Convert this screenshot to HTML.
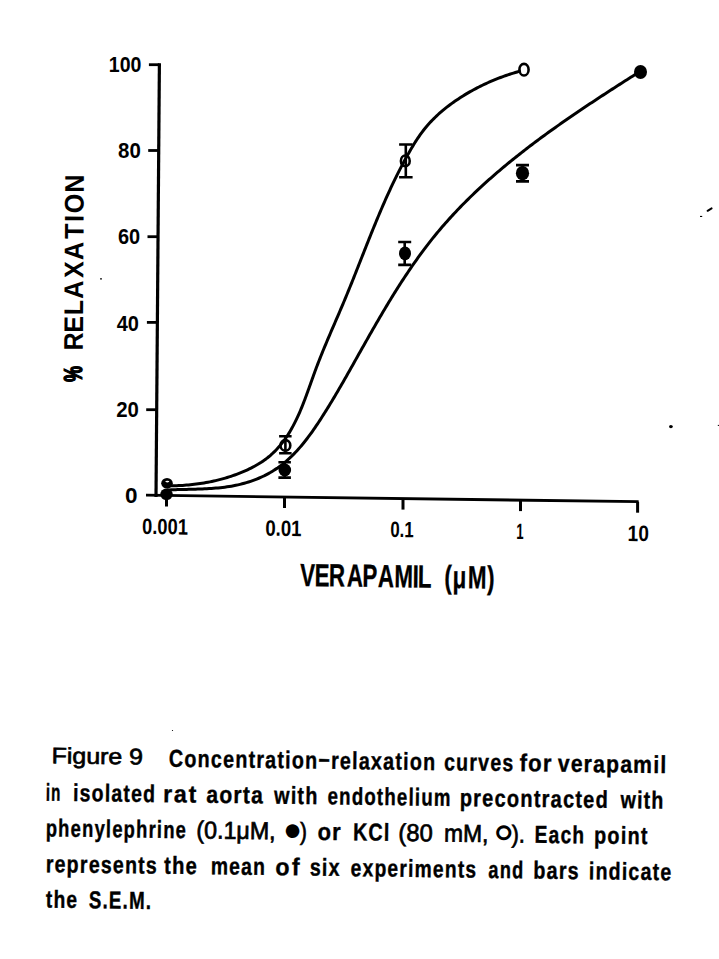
<!DOCTYPE html>
<html><head><meta charset="utf-8"><title>Figure 9</title>
<style>
html,body{margin:0;padding:0;background:#fff;}
body{width:719px;height:959px;overflow:hidden;}
svg{display:block;}
</style></head>
<body>
<svg width="719" height="959" viewBox="0 0 719 959">
<rect width="719" height="959" fill="#fff"/>
<g stroke="#000" fill="none" stroke-linecap="butt">
<path d="M159.4,63.3 L156.0,497" stroke-width="3.2"/>
<path d="M146,495.2 L638.6,501.7" stroke-width="2.8"/>
<path d="M148.9,64.7 L159.4,64.7" stroke-width="2.8"/>
<path d="M148.2,150.5 L158.7,150.5" stroke-width="2.8"/>
<path d="M147.5,236.7 L158.0,236.7" stroke-width="2.8"/>
<path d="M146.9,322.4 L157.4,322.4" stroke-width="2.8"/>
<path d="M146.2,409.7 L156.7,409.7" stroke-width="2.8"/>
<path d="M166.5,495.5 L166.5,506.5" stroke-width="3"/>
<path d="M284.5,497.0 L284.5,508.0" stroke-width="3"/>
<path d="M403.0,498.6 L403.0,509.6" stroke-width="3"/>
<path d="M520.5,500.1 L520.5,511.1" stroke-width="3"/>
<path d="M637.6,501.7 L637.6,512.7" stroke-width="3"/>
</g>
<g stroke="#000" fill="none" stroke-width="3.0" stroke-linejoin="round">
<path d="M167.21,485.77 L169.11,485.78 L171.02,485.78 L172.93,485.75 L174.85,485.71 L176.78,485.66 L178.71,485.58 L180.64,485.49 L182.58,485.38 L184.52,485.25 L186.46,485.10 L188.41,484.93 L190.36,484.75 L192.31,484.55 L194.26,484.33 L196.22,484.09 L198.17,483.83 L200.12,483.55 L202.08,483.25 L204.03,482.93 L205.98,482.59 L207.92,482.23 L209.87,481.85 L211.81,481.45 L213.75,481.04 L215.68,480.59 L217.61,480.13 L219.54,479.65 L221.45,479.15 L223.37,478.62 L225.28,478.08 L227.18,477.51 L229.07,476.92 L230.95,476.31 L232.83,475.67 L234.70,475.02 L236.56,474.34 L238.41,473.64 L240.25,472.91 L242.08,472.16 L243.90,471.39 L245.70,470.60 L247.50,469.78 L249.28,468.94 L251.04,468.07 L252.79,467.17 L254.53,466.25 L256.24,465.30 L257.93,464.32 L259.60,463.30 L261.24,462.26 L262.86,461.18 L264.46,460.07 L266.02,458.93 L267.56,457.75 L269.06,456.53 L270.53,455.27 L271.97,453.99 L273.38,452.66 L274.76,451.31 L276.11,449.93 L277.43,448.52 L278.72,447.08 L279.98,445.61 L281.21,444.12 L282.40,442.61 L283.57,441.07 L284.71,439.51 L285.82,437.93 L286.90,436.34 L287.96,434.72 L288.99,433.09 L289.99,431.43 L290.98,429.76 L291.93,428.08 L292.87,426.38 L293.78,424.66 L294.68,422.93 L295.55,421.19 L296.41,419.43 L297.24,417.66 L298.06,415.88 L298.87,414.08 L299.66,412.28 L300.43,410.47 L301.19,408.65 L301.94,406.82 L302.68,404.98 L303.41,403.13 L304.13,401.28 L304.84,399.42 L305.54,397.56 L306.23,395.69 L306.92,393.82 L307.60,391.94 L308.28,390.07 L308.95,388.19 L309.63,386.31 L310.30,384.43 L310.97,382.55 L311.64,380.66 L312.31,378.79 L312.98,376.91 L313.65,375.03 L314.33,373.16 L315.02,371.30 L315.71,369.43 L316.40,367.58 L317.11,365.72 L317.81,363.88 L318.53,362.03 L319.24,360.19 L319.97,358.36 L320.70,356.53 L321.43,354.70 L322.17,352.88 L322.91,351.06 L323.65,349.24 L324.40,347.43 L325.15,345.62 L325.91,343.81 L326.67,342.01 L327.43,340.20 L328.19,338.40 L328.95,336.60 L329.72,334.81 L330.49,333.01 L331.26,331.21 L332.03,329.42 L332.80,327.63 L333.58,325.84 L334.35,324.05 L335.13,322.25 L335.90,320.46 L336.67,318.67 L337.45,316.88 L338.22,315.09 L338.99,313.30 L339.76,311.50 L340.53,309.71 L341.29,307.91 L342.06,306.12 L342.82,304.32 L343.58,302.52 L344.34,300.72 L345.09,298.91 L345.84,297.11 L346.59,295.30 L347.34,293.49 L348.08,291.68 L348.82,289.86 L349.56,288.04 L350.30,286.23 L351.04,284.41 L351.77,282.59 L352.50,280.77 L353.23,278.94 L353.96,277.12 L354.69,275.29 L355.41,273.46 L356.14,271.64 L356.86,269.81 L357.59,267.98 L358.31,266.15 L359.03,264.32 L359.75,262.49 L360.48,260.65 L361.20,258.82 L361.92,256.99 L362.64,255.16 L363.37,253.33 L364.09,251.49 L364.81,249.66 L365.54,247.83 L366.26,245.99 L366.99,244.16 L367.72,242.33 L368.45,240.50 L369.18,238.67 L369.91,236.84 L370.65,235.01 L371.38,233.18 L372.12,231.35 L372.86,229.53 L373.60,227.70 L374.35,225.88 L375.10,224.06 L375.85,222.23 L376.60,220.41 L377.36,218.60 L378.12,216.78 L378.88,214.96 L379.64,213.15 L380.41,211.34 L381.19,209.53 L381.96,207.72 L382.74,205.92 L383.53,204.11 L384.32,202.31 L385.11,200.51 L385.91,198.72 L386.71,196.92 L387.52,195.13 L388.33,193.34 L389.15,191.56 L389.97,189.77 L390.80,187.99 L391.63,186.22 L392.47,184.44 L393.32,182.67 L394.17,180.91 L395.02,179.14 L395.89,177.38 L396.75,175.63 L397.63,173.87 L398.51,172.12 L399.40,170.38 L400.30,168.64 L401.20,166.90 L402.11,165.17 L403.02,163.44 L403.95,161.71 L404.88,159.99 L405.82,158.28 L406.76,156.57 L407.72,154.86 L408.68,153.16 L409.65,151.46 L410.63,149.77 L411.62,148.08 L412.62,146.40 L413.63,144.73 L414.66,143.06 L415.70,141.41 L416.75,139.77 L417.82,138.14 L418.92,136.53 L420.03,134.93 L421.16,133.34 L422.32,131.78 L423.50,130.23 L424.70,128.70 L425.94,127.19 L427.19,125.71 L428.48,124.24 L429.79,122.79 L431.12,121.36 L432.48,119.96 L433.86,118.57 L435.26,117.20 L436.68,115.85 L438.12,114.52 L439.58,113.21 L441.06,111.92 L442.56,110.65 L444.08,109.39 L445.61,108.15 L447.16,106.93 L448.73,105.73 L450.31,104.55 L451.90,103.38 L453.51,102.23 L455.12,101.10 L456.75,99.98 L458.40,98.88 L460.05,97.80 L461.71,96.73 L463.38,95.69 L465.07,94.65 L466.76,93.64 L468.47,92.64 L470.18,91.66 L471.90,90.69 L473.63,89.74 L475.37,88.81 L477.12,87.89 L478.88,87.00 L480.64,86.11 L482.41,85.25 L484.19,84.40 L485.98,83.57 L487.77,82.75 L489.57,81.95 L491.38,81.17 L493.19,80.40 L495.00,79.66 L496.83,78.92 L498.65,78.21 L500.49,77.51 L502.32,76.83 L504.16,76.16 L506.01,75.51 L507.86,74.88 L509.71,74.26 L511.56,73.66 L513.42,73.08 L515.28,72.51 L517.15,71.96 L519.01,71.43 L520.88,70.91"/>
<path d="M167.04,490.00 L169.16,489.90 L171.30,489.81 L173.45,489.73 L175.62,489.66 L177.80,489.60 L179.99,489.54 L182.19,489.48 L184.40,489.43 L186.62,489.38 L188.85,489.33 L191.08,489.28 L193.32,489.22 L195.57,489.16 L197.82,489.09 L200.07,489.01 L202.33,488.92 L204.59,488.82 L206.84,488.71 L209.10,488.59 L211.35,488.44 L213.61,488.28 L215.85,488.10 L218.10,487.90 L220.34,487.67 L222.57,487.42 L224.79,487.15 L227.01,486.84 L229.22,486.51 L231.41,486.15 L233.60,485.75 L235.77,485.32 L237.93,484.86 L240.08,484.36 L242.21,483.83 L244.33,483.26 L246.43,482.65 L248.52,482.01 L250.59,481.33 L252.64,480.61 L254.68,479.86 L256.70,479.07 L258.70,478.25 L260.68,477.39 L262.64,476.49 L264.58,475.55 L266.49,474.57 L268.39,473.56 L270.27,472.51 L272.12,471.42 L273.95,470.30 L275.75,469.13 L277.54,467.93 L279.29,466.69 L281.02,465.41 L282.73,464.09 L284.41,462.73 L286.07,461.34 L287.70,459.91 L289.30,458.45 L290.89,456.96 L292.45,455.43 L293.99,453.88 L295.51,452.29 L297.01,450.68 L298.49,449.04 L299.95,447.38 L301.39,445.69 L302.81,443.99 L304.21,442.26 L305.60,440.51 L306.97,438.74 L308.32,436.96 L309.66,435.16 L310.98,433.34 L312.29,431.52 L313.59,429.67 L314.87,427.82 L316.13,425.96 L317.39,424.10 L318.63,422.22 L319.87,420.34 L321.09,418.45 L322.30,416.56 L323.50,414.67 L324.70,412.78 L325.88,410.89 L327.06,409.00 L328.23,407.10 L329.39,405.21 L330.54,403.31 L331.69,401.41 L332.83,399.51 L333.97,397.62 L335.10,395.71 L336.22,393.81 L337.34,391.91 L338.45,390.01 L339.56,388.10 L340.66,386.20 L341.76,384.29 L342.86,382.38 L343.96,380.47 L345.05,378.56 L346.14,376.65 L347.22,374.73 L348.31,372.82 L349.39,370.90 L350.47,368.99 L351.56,367.07 L352.64,365.15 L353.72,363.23 L354.80,361.31 L355.88,359.38 L356.96,357.46 L358.04,355.53 L359.13,353.61 L360.21,351.68 L361.30,349.76 L362.38,347.83 L363.47,345.90 L364.56,343.98 L365.65,342.05 L366.74,340.12 L367.83,338.20 L368.92,336.27 L370.02,334.34 L371.12,332.42 L372.22,330.50 L373.32,328.57 L374.43,326.65 L375.53,324.73 L376.64,322.81 L377.76,320.89 L378.87,318.98 L379.99,317.06 L381.11,315.15 L382.24,313.24 L383.37,311.33 L384.50,309.42 L385.64,307.52 L386.78,305.62 L387.92,303.72 L389.07,301.82 L390.22,299.93 L391.38,298.04 L392.54,296.15 L393.70,294.27 L394.87,292.39 L396.05,290.51 L397.23,288.64 L398.41,286.77 L399.61,284.90 L400.80,283.04 L402.00,281.19 L403.21,279.33 L404.42,277.48 L405.64,275.64 L406.87,273.80 L408.10,271.96 L409.33,270.13 L410.58,268.31 L411.83,266.49 L413.08,264.68 L414.35,262.87 L415.62,261.06 L416.89,259.27 L418.18,257.47 L419.47,255.69 L420.77,253.91 L422.08,252.13 L423.39,250.37 L424.71,248.61 L426.04,246.85 L427.38,245.10 L428.73,243.36 L430.08,241.63 L431.45,239.90 L432.82,238.18 L434.20,236.47 L435.59,234.76 L436.99,233.07 L438.39,231.38 L439.81,229.69 L441.23,228.02 L442.67,226.35 L444.11,224.69 L445.56,223.04 L447.02,221.39 L448.48,219.75 L449.96,218.12 L451.44,216.50 L452.93,214.88 L454.43,213.27 L455.94,211.67 L457.45,210.07 L458.97,208.48 L460.50,206.90 L462.04,205.32 L463.58,203.75 L465.13,202.19 L466.69,200.63 L468.26,199.08 L469.83,197.54 L471.41,196.00 L473.00,194.47 L474.59,192.94 L476.19,191.42 L477.79,189.91 L479.41,188.40 L481.03,186.90 L482.65,185.41 L484.28,183.92 L485.92,182.44 L487.56,180.96 L489.21,179.49 L490.87,178.03 L492.53,176.57 L494.20,175.11 L495.87,173.67 L497.55,172.22 L499.23,170.79 L500.92,169.36 L502.61,167.93 L504.31,166.51 L506.02,165.09 L507.72,163.68 L509.44,162.28 L511.16,160.88 L512.88,159.49 L514.61,158.10 L516.34,156.71 L518.08,155.33 L519.82,153.96 L521.56,152.59 L523.31,151.22 L525.07,149.86 L526.82,148.51 L528.59,147.16 L530.35,145.81 L532.12,144.47 L533.89,143.13 L535.67,141.80 L537.45,140.47 L539.23,139.14 L541.02,137.82 L542.81,136.51 L544.60,135.20 L546.40,133.89 L548.20,132.59 L550.00,131.29 L551.80,129.99 L553.61,128.70 L555.42,127.41 L557.23,126.13 L559.04,124.85 L560.86,123.57 L562.68,122.30 L564.50,121.03 L566.32,119.76 L568.15,118.50 L569.97,117.24 L571.80,115.99 L573.63,114.74 L575.47,113.49 L577.30,112.24 L579.13,111.00 L580.97,109.76 L582.81,108.53 L584.65,107.29 L586.49,106.06 L588.33,104.84 L590.17,103.61 L592.01,102.39 L593.85,101.17 L595.70,99.96 L597.54,98.75 L599.38,97.53 L601.23,96.33 L603.08,95.12 L604.92,93.92 L606.77,92.72 L608.61,91.52 L610.46,90.33 L612.30,89.13 L614.15,87.94 L615.99,86.75 L617.84,85.57 L619.68,84.38 L621.52,83.20 L623.37,82.02 L625.21,80.84 L627.05,79.66 L628.89,78.49 L630.73,77.31 L632.56,76.14 L634.40,74.97 L636.24,73.80 L638.07,72.64 L639.90,71.47"/>
</g>
<path d="M285.4,436.2 L285.4,453.3 M279.1,436.2 L291.6,436.2 M279.1,453.3 L291.6,453.3" stroke="#000" stroke-width="2.6" fill="none"/>
<path d="M284.7,462.3 L284.7,477.6 M278.4,462.3 L290.9,462.3 M278.4,477.6 L290.9,477.6" stroke="#000" stroke-width="2.6" fill="none"/>
<path d="M405.8,144.5 L405.8,177.3 M399.1,144.5 L412.6,144.5 M399.1,177.3 L412.6,177.3" stroke="#000" stroke-width="2.6" fill="none"/>
<path d="M404.7,242.0 L404.7,264.9 M398.2,242.0 L411.2,242.0 M398.2,264.9 L411.2,264.9" stroke="#000" stroke-width="2.6" fill="none"/>
<path d="M522.5,165.1 L522.5,181.4 M516.0,165.1 L529.0,165.1 M516.0,181.4 L529.0,181.4" stroke="#000" stroke-width="2.6" fill="none"/>
<ellipse cx="166.5" cy="494.3" rx="6.3" ry="5.8" fill="#000"/>
<ellipse cx="284.8" cy="470.0" rx="6.3" ry="6.5" fill="#000"/>
<ellipse cx="405.0" cy="253.4" rx="6.0" ry="7.0" fill="#000"/>
<ellipse cx="522.5" cy="173.2" rx="6.6" ry="7.2" fill="#000"/>
<ellipse cx="640.5" cy="72.0" rx="6.5" ry="7.0" fill="#000"/>
<ellipse cx="167.0" cy="483.2" rx="5.8" ry="5.2" fill="#000"/>
<ellipse cx="167.3" cy="481.6" rx="2.0" ry="0.8" fill="#fff"/>
<ellipse cx="285.4" cy="445.4" rx="4.9" ry="5.3" fill="none" stroke="#000" stroke-width="2.6"/>
<ellipse cx="405.3" cy="160.9" rx="4.4" ry="5.4" fill="none" stroke="#000" stroke-width="2.6"/>
<ellipse cx="524.0" cy="69.7" rx="4.6" ry="5.8" fill="none" stroke="#000" stroke-width="2.6"/>
<g fill="#000">
<text x="108.77" y="71.90" font-family="Liberation Sans, DejaVu Sans, sans-serif" font-weight="bold" font-size="22.4" textLength="32.63" lengthAdjust="spacingAndGlyphs" >100</text>
<text x="118.10" y="157.70" font-family="Liberation Sans, DejaVu Sans, sans-serif" font-weight="bold" font-size="22.4" textLength="22.74" lengthAdjust="spacingAndGlyphs" >80</text>
<text x="118.02" y="244.40" font-family="Liberation Sans, DejaVu Sans, sans-serif" font-weight="bold" font-size="22.4" textLength="22.20" lengthAdjust="spacingAndGlyphs" >60</text>
<text x="116.70" y="330.90" font-family="Liberation Sans, DejaVu Sans, sans-serif" font-weight="bold" font-size="22.4" textLength="22.22" lengthAdjust="spacingAndGlyphs" >40</text>
<text x="116.29" y="417.00" font-family="Liberation Sans, DejaVu Sans, sans-serif" font-weight="bold" font-size="22.4" textLength="22.64" lengthAdjust="spacingAndGlyphs" >20</text>
<text x="125.11" y="502.80" font-family="Liberation Sans, DejaVu Sans, sans-serif" font-weight="bold" font-size="22.4" textLength="12.51" lengthAdjust="spacingAndGlyphs" >0</text>
<text x="142.08" y="534.00" font-family="Liberation Sans, DejaVu Sans, sans-serif" font-weight="bold" font-size="22.4" textLength="45.73" lengthAdjust="spacingAndGlyphs" transform="rotate(0.740 142.80 534.00)">0.001</text>
<text x="265.16" y="535.70" font-family="Liberation Sans, DejaVu Sans, sans-serif" font-weight="bold" font-size="22.4" textLength="36.36" lengthAdjust="spacingAndGlyphs" transform="rotate(0.740 265.90 535.70)">0.01</text>
<text x="390.13" y="537.00" font-family="Liberation Sans, DejaVu Sans, sans-serif" font-weight="bold" font-size="22.4" textLength="23.44" lengthAdjust="spacingAndGlyphs" transform="rotate(0.740 390.80 537.00)">0.1</text>
<text x="516.17" y="538.90" font-family="Liberation Sans, DejaVu Sans, sans-serif" font-weight="bold" font-size="22.4" textLength="7.29" lengthAdjust="spacingAndGlyphs" transform="rotate(0.740 517.00 538.90)">1</text>
<text x="627.60" y="541.00" font-family="Liberation Sans, DejaVu Sans, sans-serif" font-weight="bold" font-size="22.4" textLength="21.18" lengthAdjust="spacingAndGlyphs" transform="rotate(0.740 628.80 541.00)">10</text>
<text transform="rotate(0.740 300.00 586.00) translate(300.00,586.00) scale(0.7000,1)" x="-0.03 20.74 41.13 66.90 89.02 110.97 134.60 160.91 168.15 187.70 205.96 217.79 239.74 267.02" y="0" font-family="Liberation Sans, DejaVu Sans, sans-serif" font-weight="bold" font-size="32.0" stroke="#000" stroke-width="0.30">VERAPAMIL (μM)</text>
<text transform="rotate(0.350 83.20 280.00) translate(83.20,390.00) rotate(-90) scale(0.9300,1)" x="42.39 61.51 80.33 98.15 120.35 139.81 162.45 180.71 190.10 212.03" y="0" font-family="Liberation Sans, DejaVu Sans, sans-serif" font-weight="bold" font-size="27.0">RELAXATION</text>
<text transform="rotate(0.350 83.20 280.00) translate(82.40,390.00) rotate(-90) scale(0.7000,1)" x="11.37" y="0" font-family="Liberation Sans, DejaVu Sans, sans-serif" font-weight="bold" font-size="25.6" stroke="#000" stroke-width="1.40">%</text>
</g>
<g fill="#000">
<g transform="rotate(0.740 52.00 763.30)">
<text transform="translate(52.30,763.30) scale(1.115,1)" x="-0.72" y="0" font-family="Liberation Sans, DejaVu Sans, sans-serif" font-weight="normal" font-size="22.4" textLength="82.1" lengthAdjust="spacing" stroke="#000" stroke-width="0.66">Figure 9</text>
</g>
<g transform="rotate(0.740 170.00 766.70)">
<text transform="translate(169.60,766.70) scale(0.806,1)" x="-0.99" y="0" font-family="Liberation Sans, DejaVu Sans, sans-serif" font-weight="bold" font-size="24.5" textLength="330.3" lengthAdjust="spacing" stroke="#000" stroke-width="0.39">Concentration−relaxation</text>
<text transform="translate(444.80,766.70) scale(0.800,1)" x="-1.00" y="0" font-family="Liberation Sans, DejaVu Sans, sans-serif" font-weight="bold" font-size="24.5" textLength="86.5" lengthAdjust="spacing" stroke="#000" stroke-width="0.39">curves</text>
<text transform="translate(520.30,766.70) scale(0.906,1)" x="-0.88" y="0" font-family="Liberation Sans, DejaVu Sans, sans-serif" font-weight="bold" font-size="24.5" textLength="35.3" lengthAdjust="spacing" stroke="#000" stroke-width="0.37">for</text>
<text transform="translate(558.50,766.70) scale(0.864,1)" x="-0.93" y="0" font-family="Liberation Sans, DejaVu Sans, sans-serif" font-weight="bold" font-size="24.5" textLength="125.5" lengthAdjust="spacing" stroke="#000" stroke-width="0.38">verapamil</text>
</g>
<g transform="rotate(0.740 46.50 800.70)">
<text transform="translate(46.50,800.70) scale(0.620,1)" x="-1.29" y="0" font-family="Liberation Sans, DejaVu Sans, sans-serif" font-weight="bold" font-size="24.5" textLength="23.4" lengthAdjust="spacing" stroke="#000" stroke-width="0.44">in</text>
<text transform="translate(73.70,800.70) scale(0.796,1)" x="-1.01" y="0" font-family="Liberation Sans, DejaVu Sans, sans-serif" font-weight="bold" font-size="24.5" textLength="103.1" lengthAdjust="spacing" stroke="#000" stroke-width="0.39">isolated</text>
<text transform="translate(163.80,800.70) scale(0.950,1)" x="-0.84" y="0" font-family="Liberation Sans, DejaVu Sans, sans-serif" font-weight="bold" font-size="24.5" textLength="34.9" lengthAdjust="spacing" stroke="#000" stroke-width="0.36">rat</text>
<text transform="translate(207.00,800.70) scale(0.863,1)" x="-0.93" y="0" font-family="Liberation Sans, DejaVu Sans, sans-serif" font-weight="bold" font-size="24.5" textLength="65.5" lengthAdjust="spacing" stroke="#000" stroke-width="0.38">aorta</text>
<text transform="translate(274.90,800.70) scale(0.806,1)" x="-0.99" y="0" font-family="Liberation Sans, DejaVu Sans, sans-serif" font-weight="bold" font-size="24.5" textLength="53.5" lengthAdjust="spacing" stroke="#000" stroke-width="0.39">with</text>
<text transform="translate(328.30,800.70) scale(0.762,1)" x="-1.05" y="0" font-family="Liberation Sans, DejaVu Sans, sans-serif" font-weight="bold" font-size="24.5" textLength="161.4" lengthAdjust="spacing" stroke="#000" stroke-width="0.40">endothelium</text>
<text transform="translate(460.50,800.70) scale(0.818,1)" x="-0.98" y="0" font-family="Liberation Sans, DejaVu Sans, sans-serif" font-weight="bold" font-size="24.5" textLength="181.0" lengthAdjust="spacing" stroke="#000" stroke-width="0.39">precontracted</text>
<text transform="translate(621.30,800.70) scale(0.800,1)" x="-1.00" y="0" font-family="Liberation Sans, DejaVu Sans, sans-serif" font-weight="bold" font-size="24.5" textLength="53.5" lengthAdjust="spacing" stroke="#000" stroke-width="0.39">with</text>
</g>
<g transform="rotate(0.740 46.50 836.40)">
<text transform="translate(46.50,836.40) scale(0.751,1)" x="-1.07" y="0" font-family="Liberation Sans, DejaVu Sans, sans-serif" font-weight="bold" font-size="24.5" textLength="186.6" lengthAdjust="spacing" stroke="#000" stroke-width="0.40">phenylephrine</text>
</g>
<g transform="rotate(0.740 46.50 836.40)">
<text transform="translate(197.00,836.40) scale(0.950,1)" x="-0.84" y="0" font-family="Liberation Sans, DejaVu Sans, sans-serif" font-weight="normal" font-size="24.5" textLength="83.6" lengthAdjust="spacing" stroke="#000" stroke-width="0.72">(0.1μM,</text>
<text transform="translate(300.90,836.40) scale(0.832,1)" x="-0.96" y="0" font-family="Liberation Sans, DejaVu Sans, sans-serif" font-weight="normal" font-size="24.5" textLength="8.2" lengthAdjust="spacing" stroke="#000" stroke-width="0.77">)</text>
</g>
<g transform="rotate(0.740 46.50 836.40)">
<text transform="translate(318.20,836.40) scale(0.898,1)" x="-0.89" y="0" font-family="Liberation Sans, DejaVu Sans, sans-serif" font-weight="bold" font-size="24.5" textLength="25.8" lengthAdjust="spacing" stroke="#000" stroke-width="0.37">or</text>
<text transform="translate(353.70,836.40) scale(0.806,1)" x="-0.99" y="0" font-family="Liberation Sans, DejaVu Sans, sans-serif" font-weight="bold" font-size="24.5" textLength="45.2" lengthAdjust="spacing" stroke="#000" stroke-width="0.39">KCl</text>
</g>
<g transform="rotate(0.740 46.50 836.40)">
<text transform="translate(399.20,836.40) scale(0.968,1)" x="-0.83" y="0" font-family="Liberation Sans, DejaVu Sans, sans-serif" font-weight="normal" font-size="24.5" textLength="35.4" lengthAdjust="spacing" stroke="#000" stroke-width="0.71">(80</text>
<text transform="translate(444.90,836.40) scale(0.930,1)" x="-0.86" y="0" font-family="Liberation Sans, DejaVu Sans, sans-serif" font-weight="normal" font-size="24.5" textLength="47.6" lengthAdjust="spacing" stroke="#000" stroke-width="0.73">mM,</text>
<text transform="translate(512.30,836.40) scale(0.889,1)" x="-0.90" y="0" font-family="Liberation Sans, DejaVu Sans, sans-serif" font-weight="normal" font-size="24.5" textLength="15.0" lengthAdjust="spacing" stroke="#000" stroke-width="0.74">).</text>
</g>
<g transform="rotate(0.740 46.50 836.40)">
<text transform="translate(535.40,836.40) scale(0.782,1)" x="-1.02" y="0" font-family="Liberation Sans, DejaVu Sans, sans-serif" font-weight="bold" font-size="24.5" textLength="63.2" lengthAdjust="spacing" stroke="#000" stroke-width="0.40">Each</text>
<text transform="translate(594.90,836.40) scale(0.810,1)" x="-0.99" y="0" font-family="Liberation Sans, DejaVu Sans, sans-serif" font-weight="bold" font-size="24.5" textLength="65.8" lengthAdjust="spacing" stroke="#000" stroke-width="0.39">point</text>
</g>
<text x="282.95" y="839.63" font-family="Liberation Sans, DejaVu Sans, sans-serif" font-size="31.6">●</text>
<text x="494.54" y="842.26" font-family="Liberation Sans, DejaVu Sans, sans-serif" font-size="30.7" stroke="#000" stroke-width="1.60">○</text>
<g transform="rotate(0.740 46.50 872.20)">
<text transform="translate(46.50,872.20) scale(0.800,1)" x="-1.00" y="0" font-family="Liberation Sans, DejaVu Sans, sans-serif" font-weight="bold" font-size="24.5" textLength="138.8" lengthAdjust="spacing" stroke="#000" stroke-width="0.39">represents</text>
<text transform="translate(164.90,872.20) scale(0.824,1)" x="-0.97" y="0" font-family="Liberation Sans, DejaVu Sans, sans-serif" font-weight="bold" font-size="24.5" textLength="39.7" lengthAdjust="spacing" stroke="#000" stroke-width="0.39">the</text>
<text transform="translate(211.50,872.20) scale(0.790,1)" x="-1.01" y="0" font-family="Liberation Sans, DejaVu Sans, sans-serif" font-weight="bold" font-size="24.5" textLength="68.6" lengthAdjust="spacing" stroke="#000" stroke-width="0.39">mean</text>
<text transform="translate(276.00,872.20) scale(0.950,1)" x="-0.84" y="0" font-family="Liberation Sans, DejaVu Sans, sans-serif" font-weight="bold" font-size="24.5" textLength="25.5" lengthAdjust="spacing" stroke="#000" stroke-width="0.36">of</text>
<text transform="translate(310.50,872.20) scale(0.804,1)" x="-0.99" y="0" font-family="Liberation Sans, DejaVu Sans, sans-serif" font-weight="bold" font-size="24.5" textLength="37.0" lengthAdjust="spacing" stroke="#000" stroke-width="0.39">six</text>
<text transform="translate(351.40,872.20) scale(0.786,1)" x="-1.02" y="0" font-family="Liberation Sans, DejaVu Sans, sans-serif" font-weight="bold" font-size="24.5" textLength="159.6" lengthAdjust="spacing" stroke="#000" stroke-width="0.39">experiments</text>
<text transform="translate(489.20,872.20) scale(0.744,1)" x="-1.08" y="0" font-family="Liberation Sans, DejaVu Sans, sans-serif" font-weight="bold" font-size="24.5" textLength="46.8" lengthAdjust="spacing" stroke="#000" stroke-width="0.41">and</text>
<text transform="translate(534.10,872.20) scale(0.807,1)" x="-0.99" y="0" font-family="Liberation Sans, DejaVu Sans, sans-serif" font-weight="bold" font-size="24.5" textLength="56.2" lengthAdjust="spacing" stroke="#000" stroke-width="0.39">bars</text>
<text transform="translate(589.60,872.20) scale(0.799,1)" x="-1.00" y="0" font-family="Liberation Sans, DejaVu Sans, sans-serif" font-weight="bold" font-size="24.5" textLength="103.1" lengthAdjust="spacing" stroke="#000" stroke-width="0.39">indicate</text>
</g>
<g transform="rotate(0.740 46.50 907.60)">
<text transform="translate(46.60,907.60) scale(0.784,1)" x="-1.02" y="0" font-family="Liberation Sans, DejaVu Sans, sans-serif" font-weight="bold" font-size="24.5" textLength="39.8" lengthAdjust="spacing" stroke="#000" stroke-width="0.40">the</text>
<text transform="translate(89.60,907.60) scale(0.764,1)" x="-1.05" y="0" font-family="Liberation Sans, DejaVu Sans, sans-serif" font-weight="bold" font-size="24.5" textLength="81.4" lengthAdjust="spacing" stroke="#000" stroke-width="0.40">S.E.M.</text>
</g>
</g>
<path d="M707.6,210.8 L711.6,208.4" stroke="#000" stroke-width="2" stroke-linecap="round"/>
<rect x="700" y="215.9" width="2.2" height="1.1" fill="#000"/>
<ellipse cx="670.9" cy="426.6" rx="1.9" ry="1.7" fill="#000"/>
<rect x="717.8" y="424.9" width="1.2" height="1" fill="#000"/>
<circle cx="101" cy="278.8" r="0.9" fill="#000"/>
<circle cx="172.5" cy="730.5" r="0.6" fill="#000"/>
</svg>
</body></html>
